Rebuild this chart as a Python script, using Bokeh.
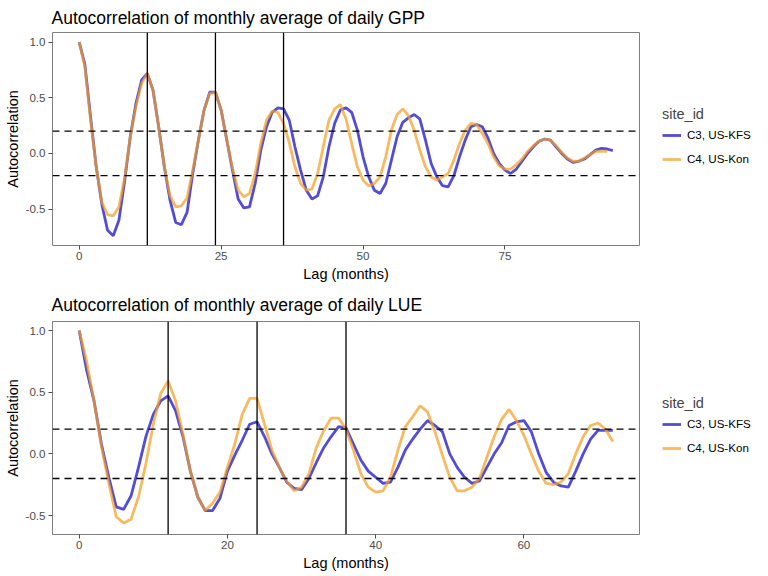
from bokeh.plotting import figure
from bokeh.models import Span, Legend, LegendItem, FixedTicker, PrintfTickFormatter, Range1d
from bokeh.layouts import column, row
from bokeh.embed import file_html
from bokeh.resources import INLINE

# ---------------- data ----------------
site_labels = ["C3, US-KFS", "C4, US-Kon"]
seasonal_lags = [12, 24, 36]
ci_bounds = [0.2, -0.2]

gpp_lag_c3 = list(range(0, 95))
gpp_acf_c3 = [1.00, 0.80, 0.33, -0.12, -0.46, -0.69, -0.74, -0.60, -0.25, 0.15,
              0.45, 0.66, 0.72, 0.57, 0.24, -0.12, -0.42, -0.62, -0.64, -0.53,
              -0.18, 0.12, 0.39, 0.55, 0.55, 0.39, 0.12, -0.15, -0.41, -0.49,
              -0.48, -0.27, 0.03, 0.24, 0.37, 0.41, 0.40, 0.30, 0.06, -0.15,
              -0.33, -0.41, -0.38, -0.21, 0.06, 0.27, 0.39, 0.41, 0.37, 0.21,
              -0.03, -0.21, -0.33, -0.36, -0.27, -0.06, 0.15, 0.28, 0.32, 0.35,
              0.31, 0.12, -0.09, -0.21, -0.29, -0.30, -0.20, -0.03, 0.12, 0.24,
              0.26, 0.24, 0.14, 0.00, -0.09, -0.15, -0.18, -0.14, -0.07, 0.00,
              0.06, 0.11, 0.13, 0.12, 0.06, 0.00, -0.05, -0.08, -0.07, -0.05,
              -0.01, 0.03, 0.045, 0.04, 0.025]
gpp_lag_c4 = list(range(0, 94))
gpp_acf_c4 = [1.00, 0.78, 0.30, -0.12, -0.44, -0.55, -0.56, -0.48, -0.22, 0.15,
              0.42, 0.63, 0.72, 0.57, 0.24, -0.12, -0.38, -0.48, -0.47, -0.40,
              -0.15, 0.12, 0.39, 0.54, 0.55, 0.39, 0.12, -0.13, -0.33, -0.39,
              -0.36, -0.18, 0.09, 0.30, 0.38, 0.37, 0.27, 0.10, -0.12, -0.27,
              -0.33, -0.32, -0.18, 0.06, 0.30, 0.40, 0.44, 0.31, 0.09, -0.12,
              -0.24, -0.29, -0.27, -0.21, -0.03, 0.21, 0.35, 0.40, 0.34, 0.21,
              0.03, -0.12, -0.21, -0.24, -0.21, -0.18, -0.06, 0.09, 0.21, 0.27,
              0.26, 0.18, 0.09, -0.03, -0.11, -0.14, -0.14, -0.10, -0.05, 0.02,
              0.07, 0.11, 0.13, 0.12, 0.07, 0.01, -0.04, -0.07, -0.07, -0.04,
              -0.01, 0.02, 0.02, 0.02]

lue_lag = list(range(0, 73))
lue_acf_c3 = [1.00, 0.68, 0.43, 0.08, -0.19, -0.43, -0.45, -0.34, -0.11, 0.14,
              0.32, 0.43, 0.47, 0.35, 0.14, -0.14, -0.35, -0.46, -0.46, -0.36,
              -0.14, -0.01, 0.11, 0.24, 0.26, 0.14, 0.00, -0.11, -0.23, -0.28,
              -0.29, -0.20, -0.07, 0.05, 0.14, 0.22, 0.21, 0.08, -0.05, -0.14,
              -0.19, -0.24, -0.23, -0.11, 0.03, 0.12, 0.20, 0.27, 0.23, 0.18,
              0.00, -0.11, -0.19, -0.24, -0.22, -0.11, 0.00, 0.09, 0.23, 0.26,
              0.27, 0.18, 0.00, -0.15, -0.23, -0.26, -0.27, -0.14, 0.00, 0.12,
              0.19, 0.19, 0.19]
lue_acf_c4 = [1.00, 0.75, 0.43, 0.06, -0.24, -0.51, -0.56, -0.53, -0.35, -0.08,
              0.24, 0.49, 0.59, 0.43, 0.16, -0.14, -0.35, -0.46, -0.40, -0.31,
              -0.11, 0.08, 0.32, 0.45, 0.45, 0.24, 0.03, -0.11, -0.22, -0.30,
              -0.27, -0.16, 0.05, 0.19, 0.29, 0.29, 0.20, 0.03, -0.16, -0.27,
              -0.31, -0.30, -0.19, 0.03, 0.22, 0.30, 0.39, 0.34, 0.18, -0.01,
              -0.19, -0.30, -0.30, -0.27, -0.20, -0.03, 0.14, 0.28, 0.36, 0.27,
              0.15, 0.00, -0.14, -0.24, -0.25, -0.23, -0.16, 0.00, 0.14, 0.23,
              0.25, 0.20, 0.10]

gpp_xticks = [0, 25, 50, 75]
lue_xticks = [0, 20, 40, 60]
yticks = [-0.5, 0.0, 0.5, 1.0]

FONT = "Liberation Sans"
BLUE = "#3f38d2"
ORANGE = "#f5a024"
PLOT_W = 640
LEG_W = 128
LEFT = 52
LW = 2.8


def panel(title, lag3, acf3, lag4, acf4, xr, yr, xticks, height, top, bottom, standoff):
    p = figure(width=PLOT_W, height=height, output_backend="svg", toolbar_location=None,
               x_range=Range1d(*xr), y_range=Range1d(*yr),
               min_border_left=LEFT, min_border_right=1,
               min_border_top=top, min_border_bottom=bottom)
    p.title.text = title
    p.title.text_font = FONT
    p.title.text_font_size = "17.5px"
    p.title.text_font_style = "normal"
    p.title.text_color = "black"
    p.title.align = "left"
    p.title.standoff = standoff
    p.title.offset = -1

    p.xgrid.visible = False
    p.ygrid.visible = False
    p.outline_line_color = "#7f7f7f"
    p.outline_line_width = 1
    p.background_fill_color = "white"
    p.border_fill_color = "white"

    for ax in (p.xaxis[0], p.yaxis[0]):
        ax.axis_line_color = None
        ax.major_tick_line_color = "#4d4d4d"
        ax.major_tick_out = 4
        ax.major_tick_in = 0
        ax.minor_tick_line_color = None
        ax.major_label_text_font = FONT
        ax.major_label_text_font_size = "11.6px"
        ax.major_label_text_color = "#4d4d4d"
        ax.axis_label_text_font = FONT
        ax.axis_label_text_font_size = "14.5px"
        ax.axis_label_text_font_style = "normal"
        ax.axis_label_text_color = "black"
    p.xaxis[0].ticker = FixedTicker(ticks=xticks)
    p.yaxis[0].ticker = FixedTicker(ticks=yticks)
    p.yaxis[0].formatter = PrintfTickFormatter(format="%.1f")
    p.xaxis[0].axis_label = "Lag (months)"
    p.yaxis[0].axis_label = "Autocorrelation"
    p.xaxis[0].major_label_standoff = 2
    p.xaxis[0].axis_label_standoff = 3
    p.yaxis[0].major_label_standoff = 3
    p.yaxis[0].axis_label_standoff = 2

    p.line(lag3, acf3, line_color=BLUE, line_width=LW, line_alpha=0.9)
    p.line(lag4, acf4, line_color=ORANGE, line_width=LW, line_alpha=0.72)

    for v in seasonal_lags:
        p.add_layout(Span(location=v, dimension="height", line_color="black", line_width=1.3))
    for h in ci_bounds:
        p.add_layout(Span(location=h, dimension="width", line_color="black",
                          line_width=1.3, line_dash="7 5"))

    # legend lives in its own narrow figure to the right of the panel;
    # the same series are drawn there but outside its visible range
    lf = figure(width=LEG_W, height=height, output_backend="svg", toolbar_location=None,
                x_range=Range1d(-1000, -999), y_range=Range1d(0, 1),
                x_axis_location=None, y_axis_location=None,
                min_border_left=0, min_border_right=0, min_border_top=0, min_border_bottom=0)
    lf.outline_line_color = None
    lf.xgrid.visible = False
    lf.ygrid.visible = False
    k3 = lf.line(lag3, acf3, line_color=BLUE, line_width=LW, line_alpha=0.9)
    k4 = lf.line(lag4, acf4, line_color=ORANGE, line_width=LW, line_alpha=0.72)
    frame_h = height - top - bottom
    leg = Legend(items=[LegendItem(label=site_labels[0], renderers=[k3]),
                        LegendItem(label=site_labels[1], renderers=[k4])],
                 title="site_id", location=(22, frame_h / 2 - 30),
                 margin=0, padding=0, border_line_color=None,
                 background_fill_alpha=0, glyph_width=19, glyph_height=20,
                 label_height=20, label_standoff=6, spacing=4,
                 label_text_font=FONT, label_text_font_size="11.6px",
                 label_text_color="black",
                 title_text_font=FONT, title_text_font_size="14.5px",
                 title_text_font_style="normal", title_standoff=3)
    lf.add_layout(leg, "center")
    return row(p, lf, spacing=0)


r1 = panel("Autocorrelation of monthly average of daily GPP",
           gpp_lag_c3, gpp_acf_c3, gpp_lag_c4, gpp_acf_c4,
           (-4.7, 98.7), (-0.827, 1.087), gpp_xticks, 284, 32, 39, 10)
r2 = panel("Autocorrelation of monthly average of daily LUE",
           lue_lag, lue_acf_c3, lue_lag, lue_acf_c4,
           (-3.6, 75.6), (-0.654, 1.073), lue_xticks, 289, 37, 39, 13)

layout = column(r1, r2, spacing=0)
open("out.html", "w").write(file_html(layout, INLINE))
